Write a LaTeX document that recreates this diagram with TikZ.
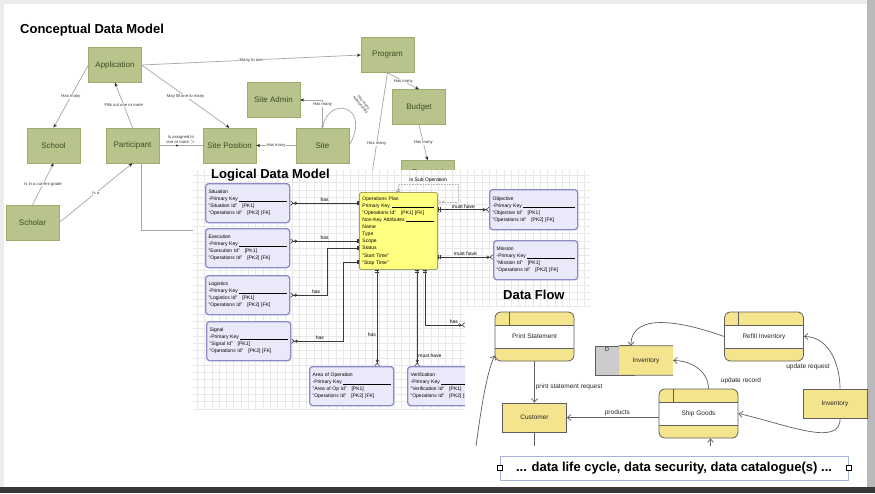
\documentclass[tikz,border=0pt]{standalone}
\usepackage{fontspec}
\setmainfont{Liberation Sans}
\usetikzlibrary{arrows.meta}

\definecolor{cfill}{HTML}{B9C48D}
\definecolor{cborder}{HTML}{9CAB6E}
\definecolor{ctext}{HTML}{3E4C22}
\definecolor{efill}{HTML}{E9E9FA}
\definecolor{eborder}{HTML}{8C8CC6}
\definecolor{opsfill}{HTML}{FFFF80}
\definecolor{opsborder}{HTML}{A3A36A}
\definecolor{dfyel}{HTML}{F4E48E}
\definecolor{dfline}{HTML}{5F5F5F}
\definecolor{gridgray}{HTML}{E8E8E8}
\definecolor{capline}{HTML}{A7B3D8}

\tikzset{
  title/.style={font=\bfseries\fontsize{13}{15}\selectfont, inner sep=0pt, anchor=base west},
  cbox/.style={draw=cborder, fill=cfill, minimum width=53pt, minimum height=35pt, inner sep=1pt, font=\fontsize{8}{9}\selectfont, text=ctext},
  crel/.style={draw=gray!70, line width=0.7pt, -{Stealth[length=4pt,width=3.2pt,color=gray!25!black]}},
  clbl/.style={font=\fontsize{4.2}{4.8}\selectfont, text=gray!40!black, fill=white, inner sep=0.4pt, align=center},
  entity/.style={draw=eborder, fill=efill, line width=1.3pt, rounded corners=3pt, anchor=north west, text width=78pt, minimum height=39pt, inner sep=3pt, align=left, font=\fontsize{5}{7}\selectfont},
  opsbox/.style={draw=opsborder, fill=opsfill, line width=0.9pt, rounded corners=2pt, anchor=north west, text width=72pt, minimum height=77pt, inner sep=3pt, align=left, font=\fontsize{5}{7.1}\selectfont},
  erel/.style={draw=gray!45!black, line width=0.6pt, {Straight Barb[reversed,length=2.5pt,width=4.5pt]Circle[open,length=3pt,width=3pt,sep=0.5pt]}-{Bar[width=4.5pt,sep=1.2pt]Bar[width=4.5pt]}},
  subrel/.style={draw=gray!60, line width=0.6pt, densely dotted, {Bar[width=4pt]Circle[open,length=3pt,width=3pt]}-{Circle[open,length=3pt,width=3pt,sep=0.5pt]Straight Barb[reversed,length=2.5pt,width=4.5pt]}},
  elbl/.style={font=\fontsize{5}{6}\selectfont, inner sep=1pt},
  gridline/.style={draw=gridgray, line width=0.3pt},
  proc/.style={draw=dfline, fill=dfyel, rounded corners=6pt, line width=0.8pt, minimum width=79pt, minimum height=49pt, inner sep=1pt, font=\fontsize{6.5}{8}\selectfont, text=gray!30!black,
    path picture={
      \fill[white, sharp corners] ([yshift=-13pt]path picture bounding box.north west) rectangle ([yshift=13pt]path picture bounding box.south east);
      \draw[dfline, line width=0.8pt, sharp corners]
        ([yshift=-13pt]path picture bounding box.north west) -- ([yshift=-13pt]path picture bounding box.north east)
        ([yshift=13pt]path picture bounding box.south west) -- ([yshift=13pt]path picture bounding box.south east)
        ([xshift=14pt]path picture bounding box.north west) -- ([xshift=14pt,yshift=-13pt]path picture bounding box.north west);
    }},
  extent/.style={draw=dfline, fill=dfyel, line width=0.8pt, minimum width=64pt, minimum height=29pt, font=\fontsize{6.5}{8}\selectfont, text=gray!30!black},
  dsid/.style={draw=dfline, fill=gray!40, line width=0.8pt, minimum width=24pt, minimum height=29pt},
  dstore/.style={fill=dfyel, minimum width=54pt, minimum height=29pt, font=\fontsize{6.5}{8}\selectfont, text=gray!30!black},
  dfarrow/.style={draw=dfline, line width=0.7pt, -{Straight Barb[length=3.5pt,width=6pt]}},
  dflbl/.style={font=\fontsize{6.5}{8}\selectfont, text=gray!30!black, inner sep=1pt},
  capbox/.style={draw=capline, line width=0.6pt, minimum width=348pt, minimum height=24pt, font=\bfseries\fontsize{13}{15}\selectfont},
  handle/.style={draw=black, fill=white, line width=0.5pt, minimum size=5pt, inner sep=0pt}
}

\begin{document}
\begin{tikzpicture}[x=1pt,y=-1pt]

% Slide and background
\useasboundingbox (0,0) rectangle (875,493);
\fill[gray!15] (0,0) rectangle (875,493);
\fill[gray!55] (867,0) rectangle (875,493);
\fill[black!78] (0,487) rectangle (875,493);
\fill[white] (4,4) rectangle (867,487);

% Conceptual data model
\node[title] (cdm) at (20,33) {Conceptual Data Model};

\node[cbox] (app) at (115,65) {Application};
\node[cbox] (prog) at (387.5,55) {Program};
\node[cbox] (sadm) at (273.5,100) {Site Admin};
\node[cbox] (budg) at (419,107) {Budget};
\node[cbox, minimum height=24pt] (fin) at (427.5,172.5) {Financial};
\node[cbox] (school) at (53.5,145.5) {School};
\node[cbox] (part) at (132.5,145.5) {Participant};
\node[cbox] (spos) at (229.5,145.5) {Site Position};
\node[cbox] (site) at (322.5,145.5) {Site};
\node[cbox] (scholar) at (32.5,222.5) {Scholar};

\coordinate (pdn) at (372,174);
\coordinate (pend) at (193,230);

\draw[crel] (app.east) -- node[clbl] (l1) {Many to one} (prog.west);
\draw[crel] (app.west) -- node[clbl] (l2) {Has many} (school.north);
\draw[crel] (part.north) -- node[clbl] (l3) {Fills out one or more} (app.south);
\draw[crel] (app.east) -- node[clbl] (l4) {May fill one to many} (spos.north);
\draw[crel, -] (part.east) -- node[clbl, above=1pt] (l5) {Is assigned to\\one or more $>$}
  node[pos=0.41, circle, fill=gray!25!black, inner sep=0.8pt] (pm) {} (spos.west);
\draw[crel] (site.west) -- node[clbl] (l6) {Has many} (spos.east);
\draw[crel, {Circle[open,length=2.5pt,width=2.5pt]}-{Stealth[length=4pt,width=3.2pt,color=gray!25!black]}]
  (site.north) |- node[clbl, pos=0.42] (l7) {Has many} (sadm.east);
\draw[crel, -] (site.north) .. controls (328,95) and (372,105) .. (site.east);
\node[clbl, fill=none, rotate=-50, font=\fontsize{3.8}{4}\selectfont] (l8) at (362,104) {Has many\\relationships};
\draw[crel] (prog.south) -- node[clbl] (l9) {Has many} (budg.north);
\draw[crel] (budg.south) -- node[clbl] (l10) {Has many} (fin.north);
\draw[crel, -] (prog.south) -- node[clbl, pos=0.7] (l11) {Has many} (pdn);
\draw[crel] (scholar.north) -- node[clbl] (l12) {Is in a current grade} (school.south);
\draw[crel] (scholar.east) -- node[clbl] (l13) {Is a} (part.south);
\draw[crel, -] ([xshift=9pt]part.south) |- (pend);

% Logical data model
\fill[white] (193,170) rectangle (590,410);
\draw[gridline] (193,170) grid[step=7.3pt] (590,410);
\node[title] (ldm) at (211,178) {Logical Data Model};

\node[entity] (sit) at (205,183) {Situation\\
  -Primary Key \hrulefill\\
  "Situation Id"\quad [PK1]\\
  "Operations Id"\quad [PK2]\ [FK]};
\node[entity] (exe) at (205,228) {Execution\\
  -Primary Key \hrulefill\\
  "Execution Id"\quad [PK1]\\
  "Operations Id"\quad [PK2]\ [FK]};
\node[entity] (logi) at (205,275) {Logistics\\
  -Primary Key \hrulefill\\
  "Logistics Id"\quad [PK1]\\
  "Operations Id"\quad [PK2]\ [FK]};
\node[entity] (sig) at (206,321) {Signal\\
  -Primary Key \hrulefill\\
  "Signal Id"\quad [PK1]\\
  "Operations Id"\quad [PK2]\ [FK]};
\node[entity] (aoo) at (309,366) {Area of Operation\\
  -Primary Key \hrulefill\\
  "Area of Op Id"\quad [PK1]\\
  "Operations Id"\quad [PK2]\ [FK]};
\node[entity] (ver) at (407,366) {Verification\\
  -Primary Key \hrulefill\\
  "Verification Id"\quad [PK1]\\
  "Operations Id"\quad [PK2]\ [FK]};
\node[entity, text width=82pt, minimum height=40pt] (obj) at (489,189) {Objective\\
  -Primary Key \hrulefill\\
  "Objective Id"\quad [PK1]\\
  "Operations Id"\quad [PK2]\ [FK]};
\node[entity] (mis) at (493,240) {Mission\\
  -Primary Key \hrulefill\\
  "Mission Id"\quad [PK1]\\
  "Operations Id"\quad [PK2]\ [FK]};
\node[opsbox] (ops) at (359,192) {Operations Plan\\
  Primary Key \hrulefill\\
  "Operations Id"\quad [PK1]\ [FK]\\
  Non-Key Attributes \hrulefill\\
  Name\\
  Type\\
  Scope\\
  Status\\
  "Start Time"\\
  "Stop Time"};

\coordinate (hx) at (465,325);

\draw[erel] (sit.east) -- node[elbl, above] (h1) {has} (sit.east -| ops.west);
\draw[erel] ([yshift=7pt]exe.east) -- node[elbl, above] (h2) {has} ([yshift=7pt]exe.east -| ops.west);
\draw[erel] (logi.east) -- node[elbl, above, pos=0.7] (h3) {has} ++(37,0) |- ([yshift=-56pt]ops.north west);
\draw[erel] (sig.east) -- node[elbl, above, pos=0.55] (h4) {has} ++(52,0) |- ([yshift=-70pt]ops.north west);
\draw[erel] ([xshift=25.5pt]aoo.north) -- node[elbl, left, pos=0.33] (h5) {has} ([xshift=25.5pt]aoo.north |- ops.south);
\draw[erel] ([xshift=-32.5pt]ver.north) -- node[elbl, right, pos=0.11] (h6) {must have} ([xshift=-32.5pt]ver.north |- ops.south);
\draw[erel] (hx) -| node[elbl, above, pos=0.14] (h7) {has} ([xshift=26.5pt]ops.south);
\draw[erel] (obj.west) -- node[elbl, above] (h8) {must have} (obj.west -| ops.east);
\draw[erel] ([yshift=3pt]mis.west) -- node[elbl, above] (h9) {must have} ([yshift=3pt]mis.west -| ops.east);
\draw[subrel] (ops.north) |- node[elbl, above, pos=0.75] (h10) {Is Sub Operation} (458,184) |- ([yshift=-10pt]ops.north east);

% Data flow
\fill[white] (465,307) rectangle (866,450);
\node[title] (dfl) at (503,299) {Data Flow};

\node[proc] (ps) at (534.5,336.5) {Print Statement};
\node[proc] (refill) at (764,336.5) {Refill Inventory};
\node[proc] (ship) at (698.5,413.5) {Ship Goods};
\node[extent] (cust) at (534.5,417.5) {Customer};
\node[extent] (invx) at (835,403.5) {Inventory};
\node[dsid] (dsd) at (607,360.5) {};
\node[font=\fontsize{6}{7}\selectfont, text=gray!30!black, anchor=north, inner sep=1.5pt] (dsdl) at (dsd.north) {D};
\node[dstore] (dsinv) at (646,360.5) {Inventory};
\draw[dfline, line width=0.8pt] (dsd.north east) -- (dsinv.north east) (dsd.south east) -- (dsinv.south east);

\coordinate (lft) at (476,446);
\coordinate (cdn) at (534.5,446);
\coordinate (sbt) at (710.5,446);

\draw[dfarrow] (ps.south) -- node[dflbl, right, pos=0.62] (f1) {print statement request} (cust.north);
\draw[dfarrow] (cust.east -| ship.west) -- node[dflbl, above, pos=0.45] (f2) {products} (cust.east);
\draw[dfarrow] ([xshift=10pt]ship.north) to[out=90, in=0] (dsinv.east);
\node[dflbl] (f3) at (741,381) {update record};
\draw[dfarrow] (refill.west) to[out=160, in=90] ([xshift=-15pt]dsinv.north);
\draw[dfarrow] ([xshift=5pt]invx.north) to[out=90, in=0] (refill.east);
\node[dflbl] (f4) at (808,367) {update request};
\draw[dfarrow] ([xshift=5pt]invx.south) .. controls (841,448) and (785,424) .. (ship.east);
\draw[dfarrow] (lft) .. controls (481,410) and (486,375) .. ([yshift=-19pt]ps.west);
\draw[dfline, line width=0.7pt] (cust.south) -- (cdn);
\draw[dfarrow] (sbt) -- ([xshift=12pt]ship.south);

% Caption
\node[capbox] (cap) at (674,468) {... data life cycle, data security, data catalogue(s) ...};
\node[handle] (hl) at (cap.west) {};
\node[handle] (hr) at (cap.east) {};

\end{tikzpicture}
\end{document}
